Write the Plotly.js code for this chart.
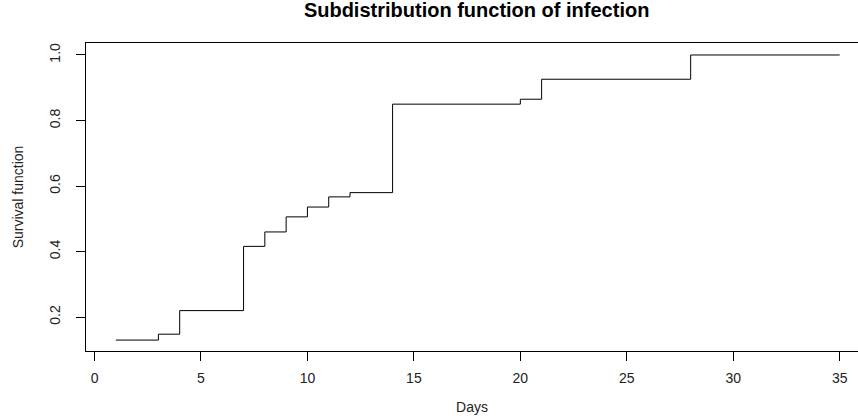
<!DOCTYPE html>
<html>
<head>
<meta charset="utf-8">
<script src="https://cdn.plot.ly/plotly-3.0.1.min.js"></script>
<style>html,body{margin:0;padding:0;background:#fff;}#chart{width:858px;height:419px;}</style>
</head>
<body>
<div id="chart"></div>
<script>
const days = [1, 3, 4, 7, 8, 9, 10, 11, 12, 14, 20, 21, 28, 35];
const cif = [0.130, 0.148, 0.220, 0.416, 0.460, 0.506, 0.536, 0.567, 0.580, 0.850, 0.865, 0.926, 1.0, 1.0];
const xTicks = [0, 5, 10, 15, 20, 25, 30, 35];
const yTicks = [0.2, 0.4, 0.6, 0.8, 1.0];
const yTickText = ["0.2", "0.4", "0.6", "0.8", "1.0"];

const font = "Liberation Sans, Arial, sans-serif";
const trace = {
  x: days, y: cif, type: "scatter", mode: "lines",
  line: {shape: "hv", color: "#000", width: 1},
  hoverinfo: "skip", showlegend: false
};
const layout = {
  width: 858, height: 419,
  margin: {l: 86, r: 0, t: 43, b: 68, pad: 0},
  paper_bgcolor: "#fff", plot_bgcolor: "#fff",
  font: {family: font, size: 14, color: "#000"},
  title: {text: "<b>Subdistribution function of infection</b>", font: {family: font, size: 20, color: "#000"},
          x: 0.506, xref: "paper", xanchor: "center", y: 0.975, yref: "container", yanchor: "middle"},
  xaxis: {
    range: [-0.4, 35.86], tickvals: xTicks, ticktext: xTicks.map(String),
    showgrid: false, zeroline: false, showline: true, linecolor: "#000", linewidth: 1, mirror: true,
    ticks: "outside", ticklen: 9, tickcolor: "#000", tickwidth: 1, ticklabelstandoff: 5,
    tickfont: {size: 14, color: "#222"},
    title: {text: "Days", font: {size: 14, color: "#222"}, standoff: 17}
  },
  yaxis: {
    range: [0.0967, 1.0366], tickvals: yTicks, ticktext: yTickText, tickangle: -90,
    showgrid: false, zeroline: false, showline: true, linecolor: "#000", linewidth: 1, mirror: false,
    ticks: "outside", ticklen: 9, tickcolor: "#000", tickwidth: 1, ticklabelstandoff: 10,
    tickfont: {size: 14, color: "#222"},
    title: {text: "Survival function", font: {size: 14, color: "#222"}, standoff: 20}
  }
};
Plotly.newPlot("chart", [trace], layout, {staticPlot: true, displayModeBar: false});
</script>
</body>
</html>
